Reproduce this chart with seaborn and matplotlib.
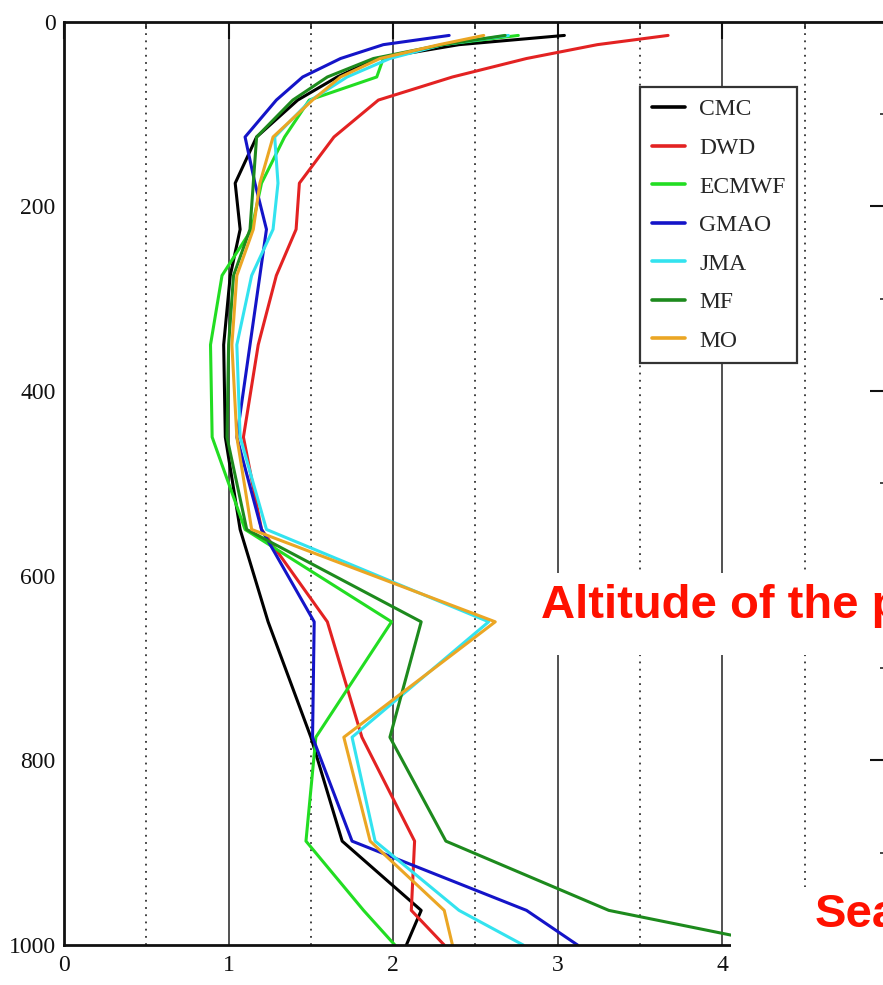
import matplotlib
matplotlib.use("Agg")
import matplotlib.pyplot as plt
import pandas as pd
import seaborn as sns
from matplotlib.lines import Line2D
from matplotlib.patches import Rectangle
from matplotlib.ticker import FixedLocator, MultipleLocator

# Pressure layers (hPa, layer mid-points plus the surface)
levels = [15, 25, 40, 60, 85, 125, 175, 225, 275, 350, 450, 550, 650, 775, 887.5, 962.5, 1000]

cmc = [3.04, 2.40, 1.90, 1.66, 1.42, 1.17, 1.04, 1.07, 1.01, 0.97, 0.98, 1.07, 1.24, 1.50, 1.69, 2.17, 2.08]
dwd = [3.67, 3.24, 2.81, 2.36, 1.91, 1.64, 1.43, 1.41, 1.29, 1.18, 1.09, 1.20, 1.60, 1.81, 2.13, 2.11, 2.31]
ecmwf = [2.76, 2.30, 1.94, 1.90, 1.49, 1.34, 1.20, 1.14, 0.96, 0.89, 0.90, 1.10, 1.99, 1.53, 1.47, 1.82, 2.01]
gmao = [2.34, 1.94, 1.68, 1.45, 1.29, 1.10, 1.16, 1.23, 1.19, 1.13, 1.05, 1.20, 1.52, 1.51, 1.75, 2.81, 3.12]
jma = [2.70, 2.30, 1.98, 1.72, 1.50, 1.28, 1.30, 1.27, 1.14, 1.05, 1.07, 1.23, 2.58, 1.75, 1.89, 2.40, 2.79]
mf = [2.68, 2.30, 1.88, 1.60, 1.39, 1.17, 1.15, 1.13, 1.03, 1.00, 0.99, 1.11, 2.17, 1.98, 2.32, 3.31, 4.35]
mo = [2.55, 2.28, 1.92, 1.68, 1.51, 1.27, 1.19, 1.15, 1.05, 1.02, 1.05, 1.14, 2.62, 1.70, 1.86, 2.31, 2.36]

centres = ["CMC", "DWD", "ECMWF", "GMAO", "JMA", "MF", "MO"]
series = [cmc, dwd, ecmwf, gmao, jma, mf, mo]
colours = ["#000000", "#e32222", "#22dd22", "#1414c8", "#33e3ef", "#1d8a1d", "#eba624"]

x_ticks = [0, 1, 2, 3, 4]
y_ticks = [0, 200, 400, 600, 800, 1000]

sns.set_style("white")
plt.rcParams["font.family"] = ["Liberation Serif", "DejaVu Serif"]

rows = []
for name, vals in zip(centres, series):
    for p, v in zip(levels, vals):
        rows.append({"centre": name, "pressure": p, "value": v})
df = pd.DataFrame(rows)

fig = plt.figure(figsize=(8.83, 9.85), dpi=100)
ax = fig.add_axes([0.0725, 0.0406, 0.932, 0.9375])

sns.lineplot(
    data=df, x="value", y="pressure", hue="centre", hue_order=centres,
    palette=dict(zip(centres, colours)), orient="y", estimator=None,
    errorbar=None, sort=True, linewidth=2.2, legend=False, ax=ax,
)

ax.set_xlim(0, 5)
ax.set_ylim(1000, 0)
ax.set_xlabel("")
ax.set_ylabel("")
ax.xaxis.set_major_locator(FixedLocator(x_ticks))
ax.xaxis.set_minor_locator(MultipleLocator(0.5))
ax.yaxis.set_major_locator(FixedLocator(y_ticks))
ax.yaxis.set_minor_locator(MultipleLocator(100))

ax.set_axisbelow(True)
ax.grid(axis="x", which="major", color="#222222", lw=1.1, ls="-")
ax.grid(axis="x", which="minor", color="#333333", lw=1.3, ls=(0, (1, 3)))
ax.grid(axis="y", visible=False)

for s in ax.spines.values():
    s.set_visible(True)
    s.set_color("#111111")
    s.set_linewidth(2.0)

ax.tick_params(axis="both", which="major", direction="in", length=12, width=1.5,
               top=True, right=True, labelsize=17, colors="#111111")
ax.tick_params(axis="both", which="minor", direction="in", length=5, width=1.2,
               top=True, right=True)
ax.tick_params(axis="y", which="major", pad=6)
ax.tick_params(axis="x", which="major", pad=7)

handles = [Line2D([], [], color=c, lw=2.6) for c in colours]
leg = ax.legend(
    handles, centres, loc="upper left", bbox_to_anchor=(0.70, 0.929),
    borderaxespad=0, frameon=True, fancybox=False, framealpha=1,
    edgecolor="#333333", prop={"family": "Liberation Serif", "size": 17},
    handlelength=1.4, handletextpad=0.6, labelspacing=0.72, borderpad=0.5,
)
leg.get_frame().set_linewidth(1.6)

W, H = 883.0, 985.0
# annotation panels laid over the right edge
fig.add_artist(Rectangle((528 / W, 1 - 655 / H), 1, (655 - 573) / H,
                         transform=fig.transFigure, facecolor="white",
                         edgecolor="none", zorder=5))
fig.text(541 / W, 1 - 618 / H, "Altitude of the p", color="#ff1100",
         fontsize=34, fontweight="bold", family="Liberation Sans",
         ha="left", va="baseline", zorder=6)
fig.add_artist(Rectangle((731 / W, 0), 1, (985 - 887) / H,
                         transform=fig.transFigure, facecolor="white",
                         edgecolor="none", zorder=5))
fig.text(815 / W, 1 - 927 / H, "Sea", color="#ff1100",
         fontsize=34, fontweight="bold", family="Liberation Sans",
         ha="left", va="baseline", zorder=6)

fig.savefig("out.png", dpi=100)
